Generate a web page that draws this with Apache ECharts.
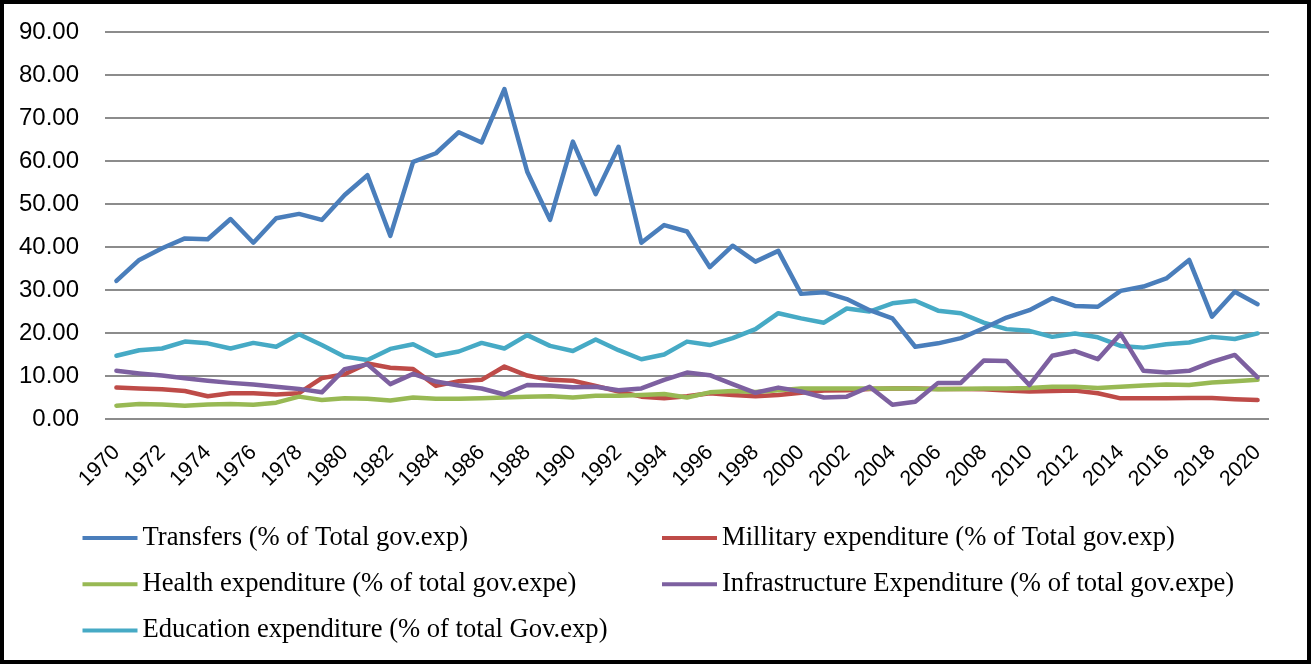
<!DOCTYPE html>
<html>
<head>
<meta charset="utf-8">
<script src="https://cdn.jsdelivr.net/npm/echarts@6/dist/echarts.min.js"></script>
<style>
  html, body { margin: 0; padding: 0; background: #fff; }
  #chart { width: 1312px; height: 665px; }
</style>
</head>
<body>
<div id="chart"></div>
<script>
// years 1970..2020
const years = [];
for (let y = 1970; y <= 2020; y++) years.push(String(y));

const seriesNames = [
  'Transfers (% of Total gov.exp)',
  'Millitary expenditure (% of Total gov.exp)',
  'Health expenditure (% of total gov.expe)',
  'Infrastructure Expenditure (% of total gov.expe)',
  'Education expenditure (% of total Gov.exp)'
];

const transfers = [
  32.1, 37.0, 39.7, 42.0, 41.8, 46.5, 41.0, 46.7, 47.7, 46.3,
  52.1, 56.7, 42.6, 59.8, 61.8, 66.7, 64.3, 76.7, 57.5, 46.3,
  64.5, 52.3, 63.3, 41.0, 45.1, 43.6, 35.3, 40.3, 36.6, 39.1,
  29.1, 29.5, 27.9, 25.3, 23.4, 16.8, 17.6, 18.8, 21.1, 23.6,
  25.3, 28.1, 26.3, 26.1, 29.8, 30.8, 32.7, 37.0, 23.8, 29.6,
  26.7
];

const military = [
  7.3, 7.1, 6.9, 6.5, 5.3, 6.0, 6.0, 5.7, 6.0, 9.5,
  10.4, 12.9, 11.9, 11.6, 7.7, 8.8, 9.1, 12.2, 10.1, 9.1,
  8.9, 7.7, 6.4, 5.2, 4.8, 5.3, 6.0, 5.6, 5.3, 5.6,
  6.1, 6.6, 6.7, 7.0, 7.1, 7.1, 7.0, 7.0, 6.9, 6.6,
  6.4, 6.5, 6.6, 6.0, 4.8, 4.8, 4.8, 4.9, 4.9, 4.6,
  4.4
];

const health = [
  3.1, 3.5, 3.4, 3.1, 3.4, 3.5, 3.3, 3.8, 5.2, 4.4,
  4.8, 4.7, 4.3, 5.0, 4.7, 4.7, 4.8, 5.0, 5.2, 5.3,
  5.0, 5.4, 5.4, 5.6, 5.8, 5.0, 6.2, 6.5, 6.3, 6.7,
  7.1, 7.1, 7.1, 7.1, 7.1, 7.1, 6.9, 7.0, 7.1, 7.1,
  7.2, 7.5, 7.5, 7.2, 7.5, 7.8, 8.0, 7.9, 8.5, 8.8,
  9.1
];

const infrastructure = [
  11.2, 10.6, 10.1, 9.5, 8.9, 8.4, 8.0, 7.5, 7.0, 6.2,
  11.6, 12.7, 8.1, 10.5, 8.7, 7.8, 7.1, 5.7, 7.9, 7.8,
  7.4, 7.5, 6.7, 7.1, 9.1, 10.8, 10.2, 8.1, 6.1, 7.3,
  6.4, 5.0, 5.2, 7.5, 3.3, 4.0, 8.4, 8.4, 13.6, 13.5,
  7.9, 14.7, 15.8, 13.9, 19.8, 11.2, 10.8, 11.2, 13.3, 14.9,
  9.7
];

const education = [
  14.7, 16.0, 16.4, 18.0, 17.6, 16.4, 17.7, 16.8, 19.7, 17.2,
  14.5, 13.7, 16.3, 17.4, 14.7, 15.7, 17.7, 16.4, 19.5, 17.0,
  15.8, 18.5, 16.0, 13.9, 15.0, 18.0, 17.2, 18.8, 20.9, 24.6,
  23.4, 22.4, 25.7, 25.0, 26.9, 27.5, 25.2, 24.6, 22.4, 20.9,
  20.5, 19.1, 19.9, 19.0, 17.0, 16.6, 17.4, 17.8, 19.1, 18.6,
  19.9
];

const colors = ['#4A7EBB', '#BE4B48', '#98B954', '#7D60A0', '#46AAC5'];
const values = [transfers, military, health, infrastructure, education];

const myChart = echarts.init(document.getElementById('chart'));

// legend text (Times-like serif)
const legendText = {
  fontFamily: 'Liberation Serif',
  fontSize: 26.6,
  color: '#000',
  lineHeight: 26
};

const options = {
  animation: false,
  color: colors,
  grid: {
    left: 105,
    right: 43,
    top: 32,
    bottom: 246
  },
  legend: [
    {
      orient: 'vertical',
      left: 82.5,
      top: 524.5,
      padding: 0,
      itemGap: 19.2,
      itemWidth: 55,
      itemHeight: 4,
      icon: 'rect',
      textStyle: legendText,
      data: [seriesNames[0], seriesNames[2], seriesNames[4]]
    },
    {
      orient: 'vertical',
      left: 662,
      top: 524.5,
      padding: 0,
      itemGap: 19.2,
      itemWidth: 55,
      itemHeight: 4,
      icon: 'rect',
      textStyle: legendText,
      data: [seriesNames[1], seriesNames[3]]
    }
  ],
  xAxis: {
    type: 'category',
    data: years,
    boundaryGap: true,
    axisLine: { show: false },
    axisTick: { show: false },
    axisLabel: {
      interval: 1,
      rotate: 45,
      margin: 30,
      fontFamily: 'Liberation Sans',
      fontSize: 21.5,
      color: '#000'
    }
  },
  yAxis: {
    type: 'value',
    min: 0,
    max: 90,
    interval: 10,
    axisLine: { show: false },
    axisTick: { show: false },
    axisLabel: {
      margin: 26,
      fontFamily: 'Liberation Sans',
      fontSize: 24,
      color: '#000',
      formatter: (v) => v.toFixed(2)
    },
    splitLine: {
      lineStyle: { color: '#8c8c8c', width: 2 }
    }
  },
  graphic: [
    {
      type: 'rect',
      shape: { x: 2, y: 2, width: 1307, height: 660 },
      style: { fill: 'none', stroke: '#000', lineWidth: 4 }
    }
  ],
  series: seriesNames.map((name, i) => ({
    name: name,
    type: 'line',
    data: values[i],
    symbol: 'none',
    smooth: false,
    z: i === 4 ? 1 : 2,
    lineStyle: { width: 4.5, color: colors[i], cap: 'round', join: 'round' },
    itemStyle: { color: colors[i] }
  }))
};

myChart.setOption(options);
</script>
</body>
</html>
